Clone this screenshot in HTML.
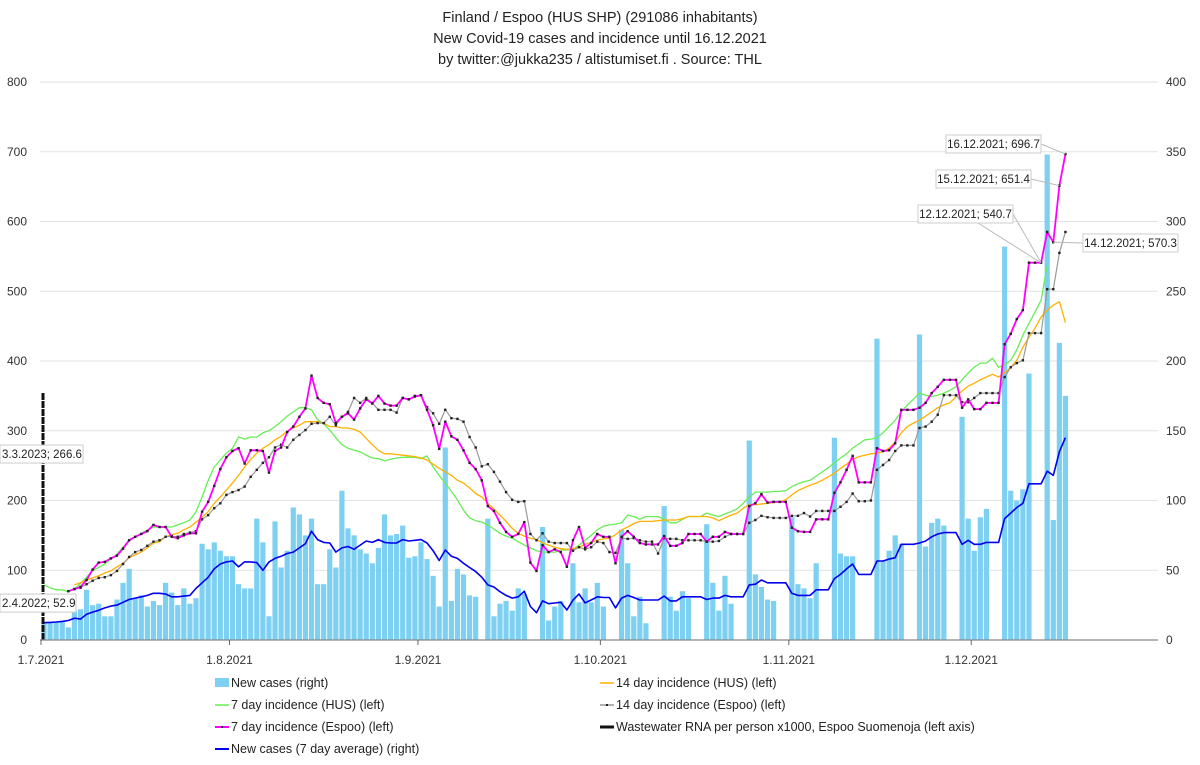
<!DOCTYPE html>
<html><head><meta charset="utf-8">
<style>
html,body{margin:0;padding:0;background:#fff;}
svg{display:block;font-family:"Liberation Sans",sans-serif;}
</style></head>
<body>
<svg id="chart" width="1200" height="765" viewBox="0 0 1200 765" xmlns="http://www.w3.org/2000/svg">
<rect x="0" y="0" width="1200" height="765" fill="#fff"/>
<g font-size="14.5" fill="#222" text-anchor="middle">
<text x="600" y="22">Finland / Espoo  (HUS SHP)  (291086 inhabitants)</text>
<text x="600" y="43">New Covid-19 cases and incidence until 16.12.2021</text>
<text x="600" y="64">by twitter:@jukka235 / altistumiset.fi . Source: THL</text>
</g>
<g id="grid"></g>
<g id="bars"></g>
<g id="lines"></g>
<g id="axes"></g>
<g id="annot"></g>
<g font-size="12.5" fill="#222">
<rect x="215" y="678" width="14" height="9" fill="#7dd0f2"/>
<text x="231" y="687">New cases (right)</text>
<line x1="215" y1="705" x2="229" y2="705" stroke="#66ee55" stroke-width="1.5"/>
<text x="231" y="709">7 day incidence (HUS) (left)</text>
<line x1="215" y1="727" x2="229" y2="727" stroke="#ff00ff" stroke-width="2"/>
<rect x="221" y="726" width="2" height="2" fill="#222"/>
<text x="231" y="731">7 day incidence (Espoo) (left)</text>
<line x1="215" y1="749" x2="229" y2="749" stroke="#0000ee" stroke-width="2"/>
<text x="231" y="753">New cases (7 day average) (right)</text>
<line x1="600" y1="683" x2="614" y2="683" stroke="#ffb000" stroke-width="1.5"/>
<text x="616" y="687">14 day incidence (HUS) (left)</text>
<line x1="600" y1="705" x2="614" y2="705" stroke="#999" stroke-width="1.5"/>
<rect x="606" y="704" width="2" height="2" fill="#222"/>
<text x="616" y="709">14 day incidence (Espoo) (left)</text>
<line x1="600" y1="727" x2="614" y2="727" stroke="#111" stroke-width="3"/>
<text x="616" y="731">Wastewater RNA per person x1000, Espoo Suomenoja (left axis)</text>
</g>
</svg>
<script>
const NS="http://www.w3.org/2000/svg";
const newCases=[13,13,13,13,9,21,22,36,25,26,17,17,29,41,51,30,32,24,28,25,41,34,25,37,26,30,69,65,70,64,60,60,40,37,37,87,70,17,85,52,64,95,90,75,87,
40,40,65,52,107,80,75,65,62,55,66,90,75,76,82,59,60,70,58,46,24,138,28,51,47,32,31,0,87,17,26,28,21,37,33,0,0,81,14,24,28,0,55,27,37,27,41,
24,0,0,79,55,17,31,12,0,0,96,31,21,35,30,0,0,83,41,21,46,26,0,0,143,47,38,29,28,0,0,88,40,37,30,55,0,0,145,62,60,60,0,0,0,
216,57,64,75,69,0,0,219,67,84,87,82,0,0,160,87,64,88,94,0,0,282,107,100,108,191,0,0,348,86,213,175];
const espoo7=[null,null,null,null,70,73,76,86,101,111,112,117,121,131,143,148,152,156,165,162,162,148,146,150,153,153,184,198,221,245,262,271,275,253,272,272,271,240,271,276,298,306,320,332,379,347,340,338,311,320,325,316,332,345,339,350,339,336,336,347,345,349,351,330,308,274,313,292,287,272,254,245,229,192,185,168,155,148,152,169,111,99,136,126,130,126,105,143,162,132,139,152,148,148,110,148,156,148,139,137,137,137,149,135,135,139,152,152,152,141,148,148,155,152,152,152,192,196,209,197,198,198,198,161,156,155,155,173,173,173,211,226,244,264,226,226,226,275,271,272,282,330,330,330,333,340,354,363,373,373,373,333,345,331,331,340,340,340,424,439,460,473,541,541,541,585,570.3,651.4,696.7];
const espoo14=[null,null,null,null,null,73,75,80,85,89,90,93,99,109,119,126,129,135,141,143,148,149,148,152,154,156,173,179,189,196,208,212,215,220,234,244,254,262,276,280,276,287,294,301,310,311,311,320,308,320,327,347,340,347,340,330,330,330,326,347,345,350,351,334,325,310,330,318,317,313,291,276,249,252,241,227,212,201,198,199,152,143,153,141,139,139,139,128,133,130,133,141,139,126,125,146,145,146,143,141,141,124,146,145,145,143,143,143,143,141,141,142,148,152,152,152,168,172,178,176,175,175,175,178,178,182,177,185,185,185,185,191,198,210,199,199,200,244,251,258,271,279,279,279,304,306,313,323,351,351,351,341,341,347,354,354,354,354,377,391,397,401,440,440,440,503,503,555,585];
const hus7=[79,75,72,72,69,73,81,90,100,104,109,116,123,133,143,148,153,158,162,162,162,162,165,168,172,184,205,229,248,258,268,275,291,288,291,291,297,300,306,313,321,327,333,333,330,316,310,301,290,280,275,272,270,265,261,260,257,259,261,262,262,262,260,264,248,236,225,213,201,186,175,171,169,165,159,153,149,146,141,136,132,128,126,126,126,129,129,130,136,143,150,158,163,165,166,168,179,177,173,177,177,177,173,168,168,173,177,177,177,182,179,177,181,184,188,196,205,212,212,212,213,213,214,220,224,227,229,235,241,247,254,261,267,275,281,287,288,290,297,306,315,327,337,345,354,351,349,351,354,358,363,373,383,391,397,397,404,391,394,401,416,437,454,470,487,537];
const hus14=[null,null,null,null,null,79,82,86,89,92,96,99,105,110,118,122,126,132,139,141,148,151,153,158,162,169,176,184,196,205,215,225,236,248,259,268,275,280,287,292,300,304,308,313,313,313,311,306,306,304,304,302,298,289,280,272,267,267,266,265,264,263,261,258,252,246,241,236,229,225,218,210,205,196,188,179,170,160,153,149,146,144,139,136,133,131,130,131,133,137,140,143,145,146,151,158,162,167,170,170,170,171,172,172,172,174,177,177,177,177,175,171,175,179,182,189,194,194,195,196,197,198,201,208,214,218,222,225,229,234,239,246,252,259,263,265,267,268,270,275,284,297,306,311,315,321,327,333,337,340,349,357,364,368,373,377,381,377,383,391,401,420,434,447,463,473,480,485,455];
const avg7=[12.4,12.6,12.9,13.3,14,15.6,15,18.5,20,21.3,23,24.3,25,27,29,30,31,32,33.5,33.5,33,31,31,31.5,32,37,41,45,51,54.5,56,56.6,52.5,56,56,55.5,50,56,58.5,60,62,63,66,69,78,72,70,69.5,63,66,67,65,68,71,70,72,70,69.5,69.5,72,71,71.5,72,69.5,64,57,64.5,60,58.5,55,52,49,45,39.5,38,34.6,32,30,31,35,24,19.6,28,26,26.5,27,21.5,28.6,33,26.6,28.7,31,30.5,30.5,23,30,32,30.5,28.7,28.7,28.7,28.7,31.5,28,28,31,31,31,31,29,30,30,32,31,31,31,39.5,40,43,41,41,41,41,33.5,32,32,32,36,36,36,44,47,51,54.5,47,47,47,56.6,56.6,58,59,68.6,68.6,68.6,69.5,71,74,76,77,77,77,68.6,71.5,68.6,68.6,70,70,70,87,91,95,98,112,112,112,121,118,135,145];
const leftTicks=[0,100,200,300,400,500,600,700,800];
const rightTicks=[0,50,100,150,200,250,300,350,400];
const monthLabels=["1.7.2021","1.8.2021","1.9.2021","1.10.2021","1.11.2021","1.12.2021"];
const monthDays=[0,31,62,92,123,153];
const wastewaterTop=355;
const annLabels=["16.12.2021; 696.7","15.12.2021; 651.4","12.12.2021; 540.7","14.12.2021; 570.3"];
const annDays=[168,167,164,166];
const annVals=[696.7,651.4,540.7,570.3];
const leftAnnLabels=["3.3.2023; 266.6","2.4.2022; 52.9"];
const leftAnnVals=[266.6,52.9];

const X0=44, DX=6.08, Y0=640, PXL=0.6975, PXR=1.395;
const xS=d=>X0+d*DX;
const yL=v=>Y0-v*PXL;
const yR=v=>Y0-v*PXR;
function mk(tag,attrs,parent){const e=document.createElementNS(NS,tag);for(const k in attrs)e.setAttribute(k,attrs[k]);parent.appendChild(e);return e;}
const grid=document.getElementById('grid'),bars=document.getElementById('bars'),lines=document.getElementById('lines'),axes=document.getElementById('axes'),annot=document.getElementById('annot');

leftTicks.forEach((t,i)=>{
  if(t>0){const g=mk('line',{x1:40,x2:1158,y1:yL(t),y2:yL(t),stroke:'#e2e2e2','stroke-width':1},grid);
  
  }
  const lt=mk('text',{x:27,y:yL(t)+4,'text-anchor':'end','font-size':12,fill:'#333'},axes);lt.textContent=t;
  
  
});
rightTicks.forEach(t=>{
  const rt=mk('text',{x:1166,y:yR(t)+4,'font-size':12,fill:'#333'},axes);rt.textContent=t;
  
  
});
newCases.forEach((v,d)=>{
  if(!v)return;
  const r=mk('rect',{x:xS(d)-2.6,y:yR(v),width:5.2,height:v*PXR,fill:'#7dd0f2'},bars);
  
  
});
const ax=mk('line',{x1:40,x2:1158,y1:Y0,y2:Y0,stroke:'#888','stroke-width':1.2},axes);


monthDays.forEach((d,i)=>{
  const x=xS(d)-3;
  const tk=mk('line',{x1:x,x2:x,y1:Y0,y2:Y0+5,stroke:'#666'},axes);
  
  
  const tl=mk('text',{x:x,y:664,'text-anchor':'middle','font-size':12,fill:'#333'},axes);tl.textContent=monthLabels[i];
  
  
});
function path(arr,sc,color,w,name,markers){
  let dd='',pen=false;
  arr.forEach((v,i)=>{if(v==null){pen=false;return;}dd+=(pen?'L':'M')+xS(i).toFixed(1)+' '+sc(v).toFixed(1)+' ';pen=true;});
  const p=mk('path',{d:dd,fill:'none',stroke:color,'stroke-width':w,'stroke-linejoin':'round'},lines);
  
  
  if(markers){arr.forEach((v,i)=>{if(v==null)return;const m=mk('rect',{x:xS(i)-1.2,y:sc(v)-1.2,width:2.4,height:2.4,fill:'#222'},lines);
    
    });}
}
path(hus7,yL,'#66ee55',1.3,'line-hus-7d',false);
path(hus14,yL,'#ffb000',1.3,'line-hus-14d',false);
path(espoo14,yL,'#999',1.2,'line-espoo-14d',true);
path(espoo7,yL,'#ff00ff',1.8,'line-espoo-7d',true);
path(avg7,yR,'#0000ee',1.6,'line-7d-average',false);
const ww=mk('line',{x1:43,x2:43,y1:Y0,y2:yL(wastewaterTop),stroke:'#111','stroke-width':3,'stroke-dasharray':'7 1'},lines);



const boxes=[[946,135],[936,170],[918,205],[1083,234]];
annLabels.forEach((t,i)=>{
  const [bx,by]=boxes[i];
  const bw=95,bh=18;
  const tx=xS(annDays[i]),ty=yL(annVals[i]);
  const sx=i===3?bx:bx+bw, sy=by+bh/2;
  const l=mk('line',{x1:sx,y1:sy,x2:tx,y2:ty,stroke:'#bbb','stroke-width':1},annot);
  
  
  if(i===2){const l2=mk('line',{x1:bx+60,y1:by+bh,x2:tx,y2:ty,stroke:'#bbb','stroke-width':1},annot);
    
    }
  const r=mk('rect',{x:bx,y:by,width:bw,height:bh,fill:'#fff',stroke:'#ccc'},annot);
  
  
  const tt=mk('text',{x:bx+bw/2,y:by+13,'text-anchor':'middle','font-size':11.5,fill:'#222'},annot);tt.textContent=t;
  
  
});
leftAnnLabels.forEach((t,i)=>{
  const y=yL(leftAnnVals[i]);
  const w=i===0?83:76;
  const r=mk('rect',{x:0,y:y-9,width:w,height:18,fill:'#fff',stroke:'#ccc'},annot);
  
  
  const tt=mk('text',{x:2,y:y+4,'font-size':11.5,fill:'#222'},annot);tt.textContent=t;
  
  
});
</script>
</body></html>
